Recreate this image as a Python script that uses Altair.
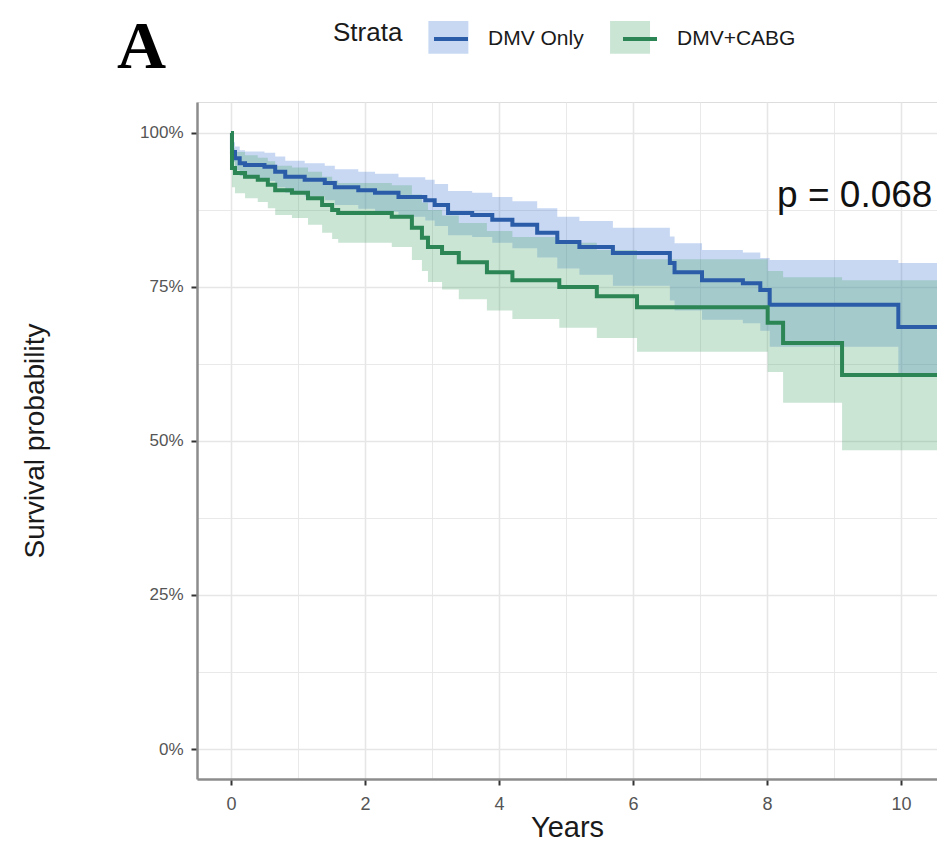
import altair as alt
import pandas as pd

# ---------------- data ----------------
strata_names = ["DMV Only", "DMV+CABG"]

blue_time = [0, 0.015, 0.06, 0.13, 0.21, 0.5, 0.66, 0.81, 1.1, 1.4, 1.55, 1.9, 2.15, 2.5, 2.9,
             3.04, 3.24, 3.6, 3.9, 4.2, 4.57, 4.87, 5.2, 5.7, 6.55, 6.62, 7.03, 7.64, 7.9, 8.04,
             9.96, 10.7]
blue_surv = [1.0, 0.969, 0.959, 0.951, 0.948, 0.945, 0.937, 0.929, 0.924, 0.919, 0.912, 0.907,
             0.903, 0.896, 0.891, 0.883, 0.870, 0.867, 0.859, 0.851, 0.838, 0.823, 0.815, 0.805,
             0.789, 0.774, 0.761, 0.756, 0.745, 0.721, 0.685, 0.685]
blue_upper = [1.0, 0.985, 0.978, 0.972, 0.970, 0.968, 0.962, 0.955, 0.951, 0.947, 0.941, 0.937,
              0.934, 0.928, 0.924, 0.917, 0.906, 0.903, 0.896, 0.889, 0.878, 0.864, 0.857, 0.846,
              0.832, 0.821, 0.810, 0.806, 0.797, 0.794, 0.789, 0.789]
blue_lower = [1.0, 0.953, 0.940, 0.930, 0.926, 0.922, 0.912, 0.903, 0.897, 0.891, 0.883, 0.877,
              0.872, 0.864, 0.858, 0.849, 0.834, 0.831, 0.822, 0.813, 0.798, 0.780, 0.770, 0.752,
              0.728, 0.712, 0.697, 0.691, 0.679, 0.653, 0.604, 0.604]

green_time = [0, 0.015, 0.06, 0.21, 0.4, 0.55, 0.66, 0.91, 1.15, 1.36, 1.51, 1.6, 2.4, 2.7, 2.85,
              2.94, 3.15, 3.4, 3.82, 4.2, 4.9, 5.46, 6.06, 8.01, 8.24, 9.12, 10.7]
green_surv = [1.0, 0.943, 0.935, 0.929, 0.924, 0.916, 0.907, 0.903, 0.894, 0.883, 0.875, 0.870,
              0.864, 0.846, 0.830, 0.815, 0.805, 0.790, 0.774, 0.761, 0.750, 0.735, 0.717, 0.692,
              0.659, 0.607, 0.607]
green_upper = [1.0, 0.975, 0.969, 0.964, 0.960, 0.954, 0.947, 0.944, 0.937, 0.929, 0.923, 0.919,
               0.915, 0.900, 0.887, 0.875, 0.866, 0.854, 0.841, 0.831, 0.822, 0.810, 0.795, 0.776,
               0.766, 0.761, 0.761]
green_lower = [1.0, 0.912, 0.902, 0.894, 0.888, 0.878, 0.867, 0.862, 0.851, 0.838, 0.828, 0.822,
               0.815, 0.794, 0.776, 0.758, 0.746, 0.730, 0.712, 0.698, 0.684, 0.667, 0.645, 0.612,
               0.562, 0.485, 0.485]

x_ticks = list(range(0, 11))
y_ticks = [0, 0.125, 0.25, 0.375, 0.5, 0.625, 0.75, 0.875, 1.0]
pval_label = ["p = 0.068"]
pval_x = [8.15]
pval_y = [0.88]
panel_tag = ["A"]

line_colors = ["#2A5CA8", "#2B8554"]
fill_colors = ["#4A7FD6", "#52A874"]

# ---------------- tables ----------------
rows = []
for name, t, s, lo, up in [
    (strata_names[0], blue_time, blue_surv, blue_lower, blue_upper),
    (strata_names[1], green_time, green_surv, green_lower, green_upper),
]:
    for i in range(len(t)):
        rows.append({"time": t[i], "surv": s[i], "lower": lo[i], "upper": up[i],
                     "strata": name, "strata2": name})
df = pd.DataFrame(rows)
pdf = pd.DataFrame({"x": pval_x, "y": pval_y, "label": pval_label})
tagdf = pd.DataFrame({"label": panel_tag})

FONT = "Liberation Sans"

xscale = alt.Scale(domain=[-0.507, 10.537], nice=False, zero=False)
yscale = alt.Scale(domain=[-0.0487, 1.0503], nice=False, zero=False)

xaxis = alt.Axis(
    values=x_ticks, title="Years", grid=True, gridColor="#E6E6E6",
    gridWidth={"condition": {"test": "datum.value % 2 !== 0", "value": 0.9}, "value": 1.6},
    tickOpacity={"condition": {"test": "datum.value % 2 !== 0", "value": 0}, "value": 1},
    labelExpr="datum.value % 2 === 0 ? datum.label : ''",
    labelFlush=False, labelOverlap=False,
    tickSize=6, tickWidth=2, tickColor="#333333",
    domainColor="#8C8C8C", domainWidth=2.5,
    labelFont=FONT, labelFontSize=18, labelColor="#555555", labelPadding=10,
    titleFont=FONT, titleFontSize=29, titleFontWeight="normal", titleColor="#1A1A1A",
    titleY=57, titleBaseline="alphabetic",
)
yaxis = alt.Axis(
    values=y_ticks, title="Survival probability", format=".0%", grid=True, gridColor="#E6E6E6",
    gridWidth={"condition": {"test": "(datum.value*4) % 1 !== 0", "value": 0.9}, "value": 1.6},
    tickOpacity={"condition": {"test": "(datum.value*4) % 1 !== 0", "value": 0}, "value": 1},
    labelExpr="(datum.value*4) % 1 === 0 ? datum.label : ''",
    labelFlush=False, labelOverlap=False,
    tickSize=6, tickWidth=2, tickColor="#333333",
    domainColor="#8C8C8C", domainWidth=2.5,
    labelFont=FONT, labelFontSize=17, labelColor="#555555", labelPadding=8,
    titleFont=FONT, titleFontSize=28, titleFontWeight="normal", titleColor="#1A1A1A",
    titleX=-162, titleAngle=-90, titleAlign="center", titleBaseline="middle",
)

# legend geometry
LEG_X = 136
LEG_Y = -85
TITLE_SIZE = 26
TITLE_PAD = 26
LABEL_SIZE = 21
LABEL_OFF = 15
COL_PAD = 31
SYM = 1600
title_w = 2.668 * TITLE_SIZE           # width of "Strata" (Arial metrics)
label1_w = 4.556 * LABEL_SIZE          # width of "DMV Only" (Arial metrics)

base = alt.Chart(df)

# confidence bands: legend shows only the light boxes (no text), aligned under the line legend
bands = base.mark_area(interpolate="step-after", opacity=0.3, clip=True).encode(
    x=alt.X("time:Q", scale=xscale, axis=xaxis),
    y=alt.Y("lower:Q", scale=yscale, axis=yaxis),
    y2="upper:Q",
    fill=alt.Fill("strata:N", scale=alt.Scale(range=fill_colors),
                  legend=alt.Legend(title=None, orient="none", direction="horizontal",
                                    legendX=LEG_X + title_w + TITLE_PAD, legendY=LEG_Y,
                                    symbolType="M-1,-0.82H1V0.82H-1Z", symbolStrokeWidth=0,
                                    symbolSize=SYM, labelExpr="''", labelOffset=0,
                                    labelFontSize=LABEL_SIZE,
                                    columnPadding=LABEL_OFF + label1_w + COL_PAD, padding=0)),
)

lines = base.mark_line(interpolate="step-after", strokeWidth=4, clip=True).encode(
    x=alt.X("time:Q", scale=xscale, axis=xaxis),
    y=alt.Y("surv:Q", scale=yscale, axis=yaxis),
    stroke=alt.Stroke("strata2:N", scale=alt.Scale(range=line_colors),
                      legend=alt.Legend(title="Strata", orient="none", direction="horizontal",
                                        legendX=LEG_X, legendY=LEG_Y, titleOrient="left",
                                        titleFont=FONT, titleFontSize=TITLE_SIZE,
                                        titleFontWeight="normal", titleColor="#1A1A1A",
                                        titlePadding=TITLE_PAD, titleBaseline="middle",
                                        titleAnchor="middle",
                                        labelFont=FONT, labelFontSize=LABEL_SIZE,
                                        labelColor="#1A1A1A", labelOffset=LABEL_OFF,
                                        columnPadding=COL_PAD, symbolSize=SYM, padding=0,
                                        symbolType="M-0.85,0H0.85", symbolStrokeWidth=4)),
)

ptext = alt.Chart(pdf).mark_text(align="left", baseline="alphabetic", font=FONT, fontSize=37,
                                 color="#111111").encode(
    x=alt.X("x:Q", scale=xscale, axis=xaxis),
    y=alt.Y("y:Q", scale=yscale, axis=yaxis),
    text="label:N",
)

# panel tag "A" (decoration, placed in the margin above the panel)
tag = alt.Chart(tagdf).mark_text(align="left", baseline="alphabetic", font="Liberation Serif",
                                 fontSize=68, fontWeight="bold", color="#000000").encode(
    x=alt.value(-80), y=alt.value(-34), text="label:N",
)

chart = alt.layer(bands, lines, ptext, tag).properties(
    width=740, height=677,
    autosize=alt.AutoSizeParams(type="none"),
    padding={"left": 189, "top": 94, "right": 0, "bottom": 64},
).configure_view(stroke="#A6A6A6", strokeWidth=2).configure(background="white")

chart.save("out.html", embed_options={"renderer": "svg", "actions": False})
